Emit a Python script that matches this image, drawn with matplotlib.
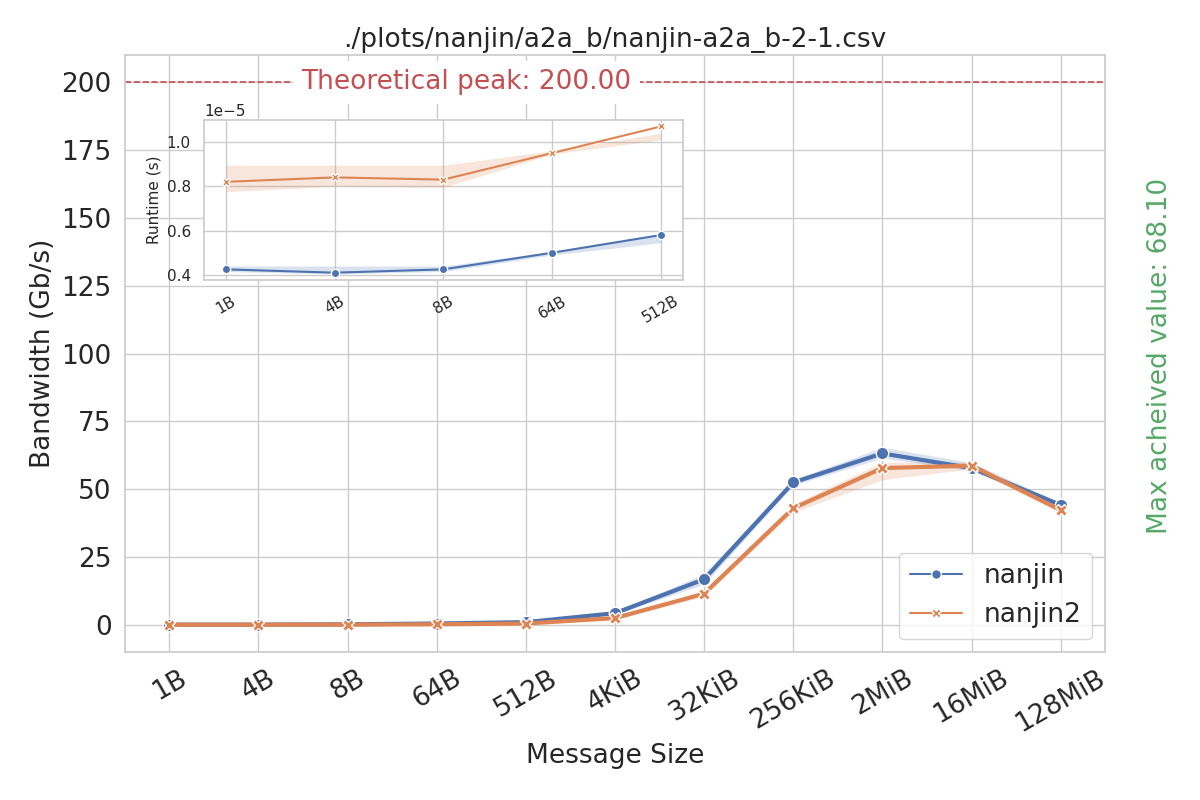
import numpy as np
import matplotlib.pyplot as plt
from matplotlib.lines import Line2D
import seaborn as sns

sns.set_theme(style="whitegrid")

sizes = ["1B", "4B", "8B", "64B", "512B", "4KiB", "32KiB", "256KiB", "2MiB", "16MiB", "128MiB"]
bw_nanjin = [0.1, 0.1, 0.2, 0.5, 1.0, 4.3, 16.8, 52.5, 63.2, 57.8, 44.2]
bw_nanjin_lo = [0.05, 0.05, 0.15, 0.4, 0.8, 3.8, 15.0, 51.5, 61.5, 56.8, 43.5]
bw_nanjin_hi = [0.15, 0.15, 0.25, 0.6, 1.2, 4.8, 18.8, 53.5, 65.5, 59.8, 45.0]
bw_nanjin2 = [0.05, 0.05, 0.1, 0.2, 0.5, 2.5, 11.5, 43.0, 57.8, 58.7, 42.3]
bw_nanjin2_lo = [0.02, 0.02, 0.05, 0.1, 0.3, 2.0, 10.5, 41.5, 53.5, 57.5, 41.5]
bw_nanjin2_hi = [0.08, 0.08, 0.15, 0.3, 0.7, 3.0, 12.5, 44.5, 60.0, 60.0, 43.0]

small_sizes = ["1B", "4B", "8B", "64B", "512B"]
rt_nanjin = [0.425e-5, 0.41e-5, 0.425e-5, 0.50e-5, 0.58e-5]
rt_nanjin_lo = [0.415e-5, 0.405e-5, 0.415e-5, 0.49e-5, 0.545e-5]
rt_nanjin_hi = [0.44e-5, 0.44e-5, 0.44e-5, 0.505e-5, 0.585e-5]
rt_nanjin2 = [0.82e-5, 0.84e-5, 0.83e-5, 0.95e-5, 1.07e-5]
rt_nanjin2_lo = [0.775e-5, 0.80e-5, 0.795e-5, 0.945e-5, 1.01e-5]
rt_nanjin2_hi = [0.895e-5, 0.895e-5, 0.895e-5, 0.96e-5, 1.04e-5]

peak = 200.0
max_val = 68.10

blue, orange = sns.color_palette("deep")[0], sns.color_palette("deep")[1]

fig = plt.figure(figsize=(12, 8), dpi=100)
ax = fig.add_axes([0.104, 0.185, 0.817, 0.746])
x = np.arange(len(sizes))

ax.fill_between(x, bw_nanjin_lo, bw_nanjin_hi, color=blue, alpha=0.2, lw=0)
ax.fill_between(x, bw_nanjin2_lo, bw_nanjin2_hi, color=orange, alpha=0.2, lw=0)
ax.plot(x, bw_nanjin, color=blue, lw=3, marker="o", ms=9, mec="white")
ax.plot(x, bw_nanjin2, color=orange, lw=3, marker="X", ms=9, mec="white")

ax.axhline(peak, color="#c44e52", ls="--", lw=1.2)
ax.text(3.33, peak, f"Theoretical peak: {peak:.2f}", color="#c44e52", fontsize=19,
        ha="center", va="center", bbox=dict(facecolor="white", edgecolor="none", pad=6))

ax.set_xticks(x)
ax.set_xticklabels(sizes, rotation=30, fontsize=19)
ax.tick_params(axis="y", labelsize=19)
ax.set_xlim(-0.5, len(sizes) - 0.5)
ax.set_ylim(-10, 210)
ax.set_xlabel("Message Size", fontsize=19)
ax.set_ylabel("Bandwidth (Gb/s)", fontsize=19)
ax.set_title("./plots/nanjin/a2a_b/nanjin-a2a_b-2-1.csv", fontsize=19)
handles = [Line2D([], [], color=blue, lw=1.5, marker="o", ms=7, mec="white"),
           Line2D([], [], color=orange, lw=1.5, marker="X", ms=7, mec="white")]
ax.legend(handles, ["nanjin", "nanjin2"], loc="lower right", fontsize=19)

fig.text(0.967, 0.555, f"Max acheived value: {max_val:.2f}", color="#55a868",
         fontsize=19, rotation=90, ha="center", va="center")

ins = fig.add_axes([0.17, 0.65, 0.399, 0.2])
xs = np.arange(len(small_sizes))
ins.fill_between(xs, rt_nanjin_lo, rt_nanjin_hi, color=blue, alpha=0.2, lw=0)
ins.fill_between(xs, rt_nanjin2_lo, rt_nanjin2_hi, color=orange, alpha=0.2, lw=0)
ins.plot(xs, rt_nanjin, color=blue, lw=1.5, marker="o", ms=6, mec="white")
ins.plot(xs, rt_nanjin2, color=orange, lw=1.5, marker="X", ms=6, mec="white")
ins.set_xticks(xs)
ins.set_xticklabels(small_sizes, rotation=30, fontsize=11)
ins.tick_params(axis="y", labelsize=11)
ins.set_xlim(-0.2, len(small_sizes) - 0.8)
ins.set_ylim(0.377e-5, 1.099e-5)
ins.set_ylabel("Runtime (s)", fontsize=11)
ins.yaxis.get_offset_text().set_fontsize(11)

fig.savefig("out.png", dpi=100)
